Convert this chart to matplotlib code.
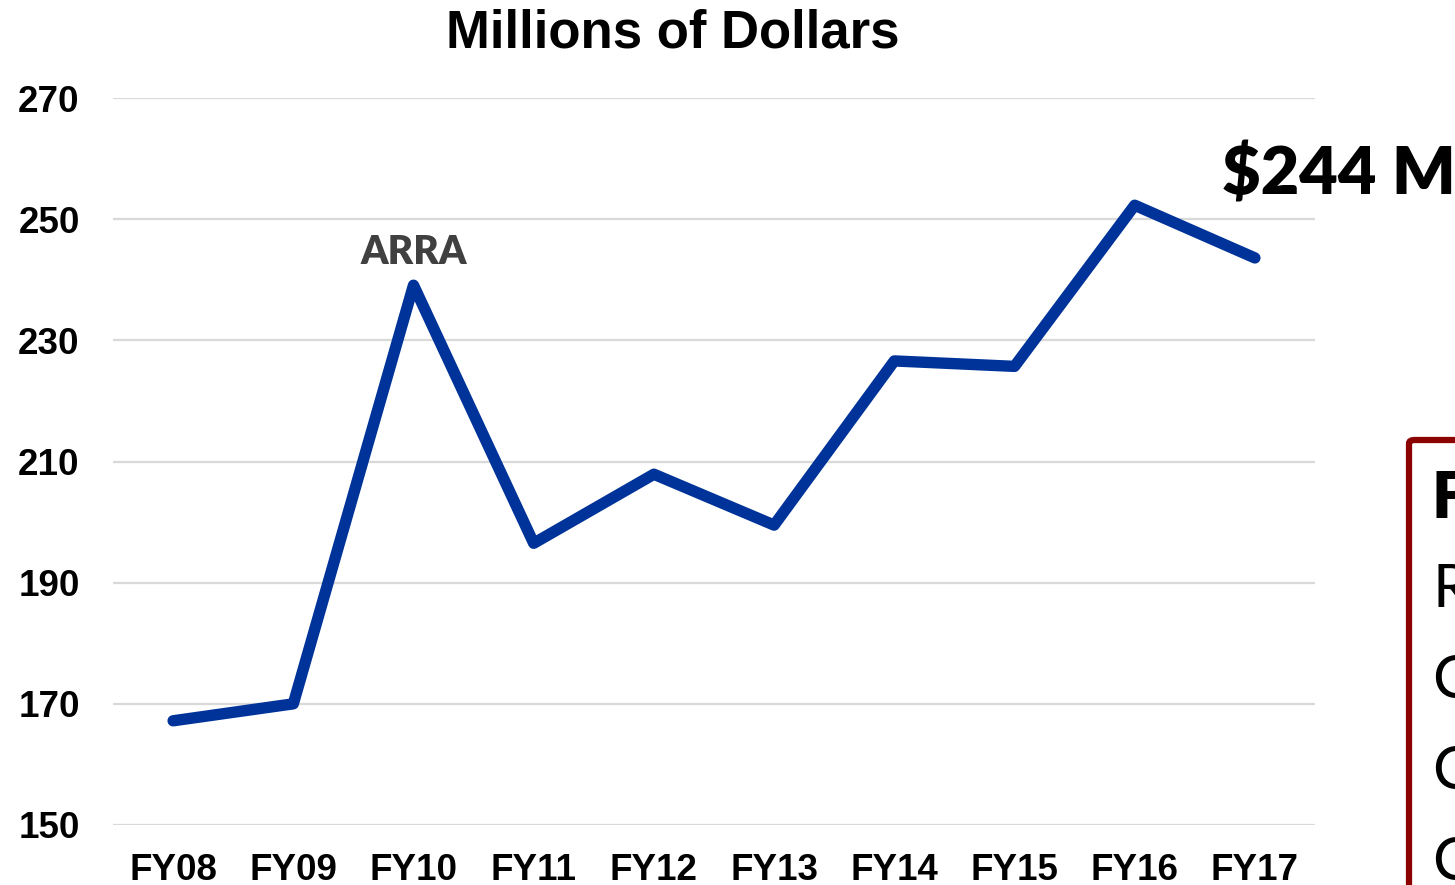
import matplotlib
matplotlib.use("Agg")
import matplotlib.pyplot as plt
from matplotlib.patches import FancyBboxPatch

# datos
years = ['FY08', 'FY09', 'FY10', 'FY11', 'FY12', 'FY13', 'FY14', 'FY15', 'FY16', 'FY17']
millions = [167.2, 170.0, 239.1, 196.5, 207.9, 199.5, 226.6, 225.7, 252.3, 243.6]
yticks = [150, 170, 190, 210, 230, 250, 270]
title = 'Millions of Dollars'
peak_label = 'ARRA'
last_label = '$244 M'
box_lines = ['F', 'R', 'C', 'C', 'C']

W, H = 1455, 885
fig = plt.figure(figsize=(W / 100, H / 100), dpi=100)
ax = fig.add_axes([113 / W, 1 - 825 / H, (1315 - 113) / W, (825 - 98) / H])

x = list(range(len(years)))
ax.plot(x, millions, color='#003399', lw=8.2, solid_capstyle='round',
        solid_joinstyle='round', zorder=3)

ax.set_xlim(-0.5, len(years) - 0.5)
ax.set_ylim(150, 270)
ax.set_yticks(yticks)
ax.set_xticks(x)
ax.set_xticklabels(years)
ax.grid(axis='y', color='#d9d9d9', lw=1.6)
ax.set_axisbelow(True)
for s in ax.spines.values():
    s.set_visible(False)
ax.tick_params(length=0)
ax.tick_params(axis='x', pad=20)
ax.tick_params(axis='y', pad=24)
for lab in ax.get_xticklabels() + ax.get_yticklabels():
    lab.set_fontfamily('Liberation Sans')
    lab.set_fontweight('bold')
    lab.set_fontsize(26.5)

# titulo
fig.text(673 / W, 1 - 33 / H, title, ha='center', va='center',
         fontfamily='Liberation Sans', fontweight='bold', fontsize=38)

# anotacion ARRA sobre el pico
ipk = millions.index(max(millions[:5]))
ax.annotate(peak_label, xy=(ipk, millions[ipk]), xytext=(0, 15),
            textcoords='offset points', ha='center', va='baseline',
            fontfamily=['Lato', 'DejaVu Sans'], fontweight='heavy', fontsize=28,
            color='#404040')

# etiqueta del ultimo valor
fig.text(1222 / W, 1 - 195 / H, last_label, ha='left', va='baseline',
         fontfamily=['Lato', 'DejaVu Sans'], fontweight='heavy', fontsize=48)

# caja roja cortada a la derecha
box = FancyBboxPatch((1409 / W, -0.05), 0.2, (1 - 440 / H) + 0.05,
                     boxstyle='round,pad=0,rounding_size=0.004',
                     transform=fig.transFigure, fill=False,
                     edgecolor='#8B0000', lw=4.5, clip_on=False)
fig.patches.append(box)

fig.text(1432 / W, 1 - 518 / H, box_lines[0], ha='left', va='baseline',
         fontfamily=['Lato', 'DejaVu Sans'], fontweight='heavy', fontsize=46)
for i, t in enumerate(box_lines[1:]):
    fig.text(1432 / W, 1 - (607 + 91 * i) / H, t, ha='left', va='baseline',
             fontfamily=['Lato', 'DejaVu Sans'], fontsize=43)

fig.savefig('out.png', dpi=100)
